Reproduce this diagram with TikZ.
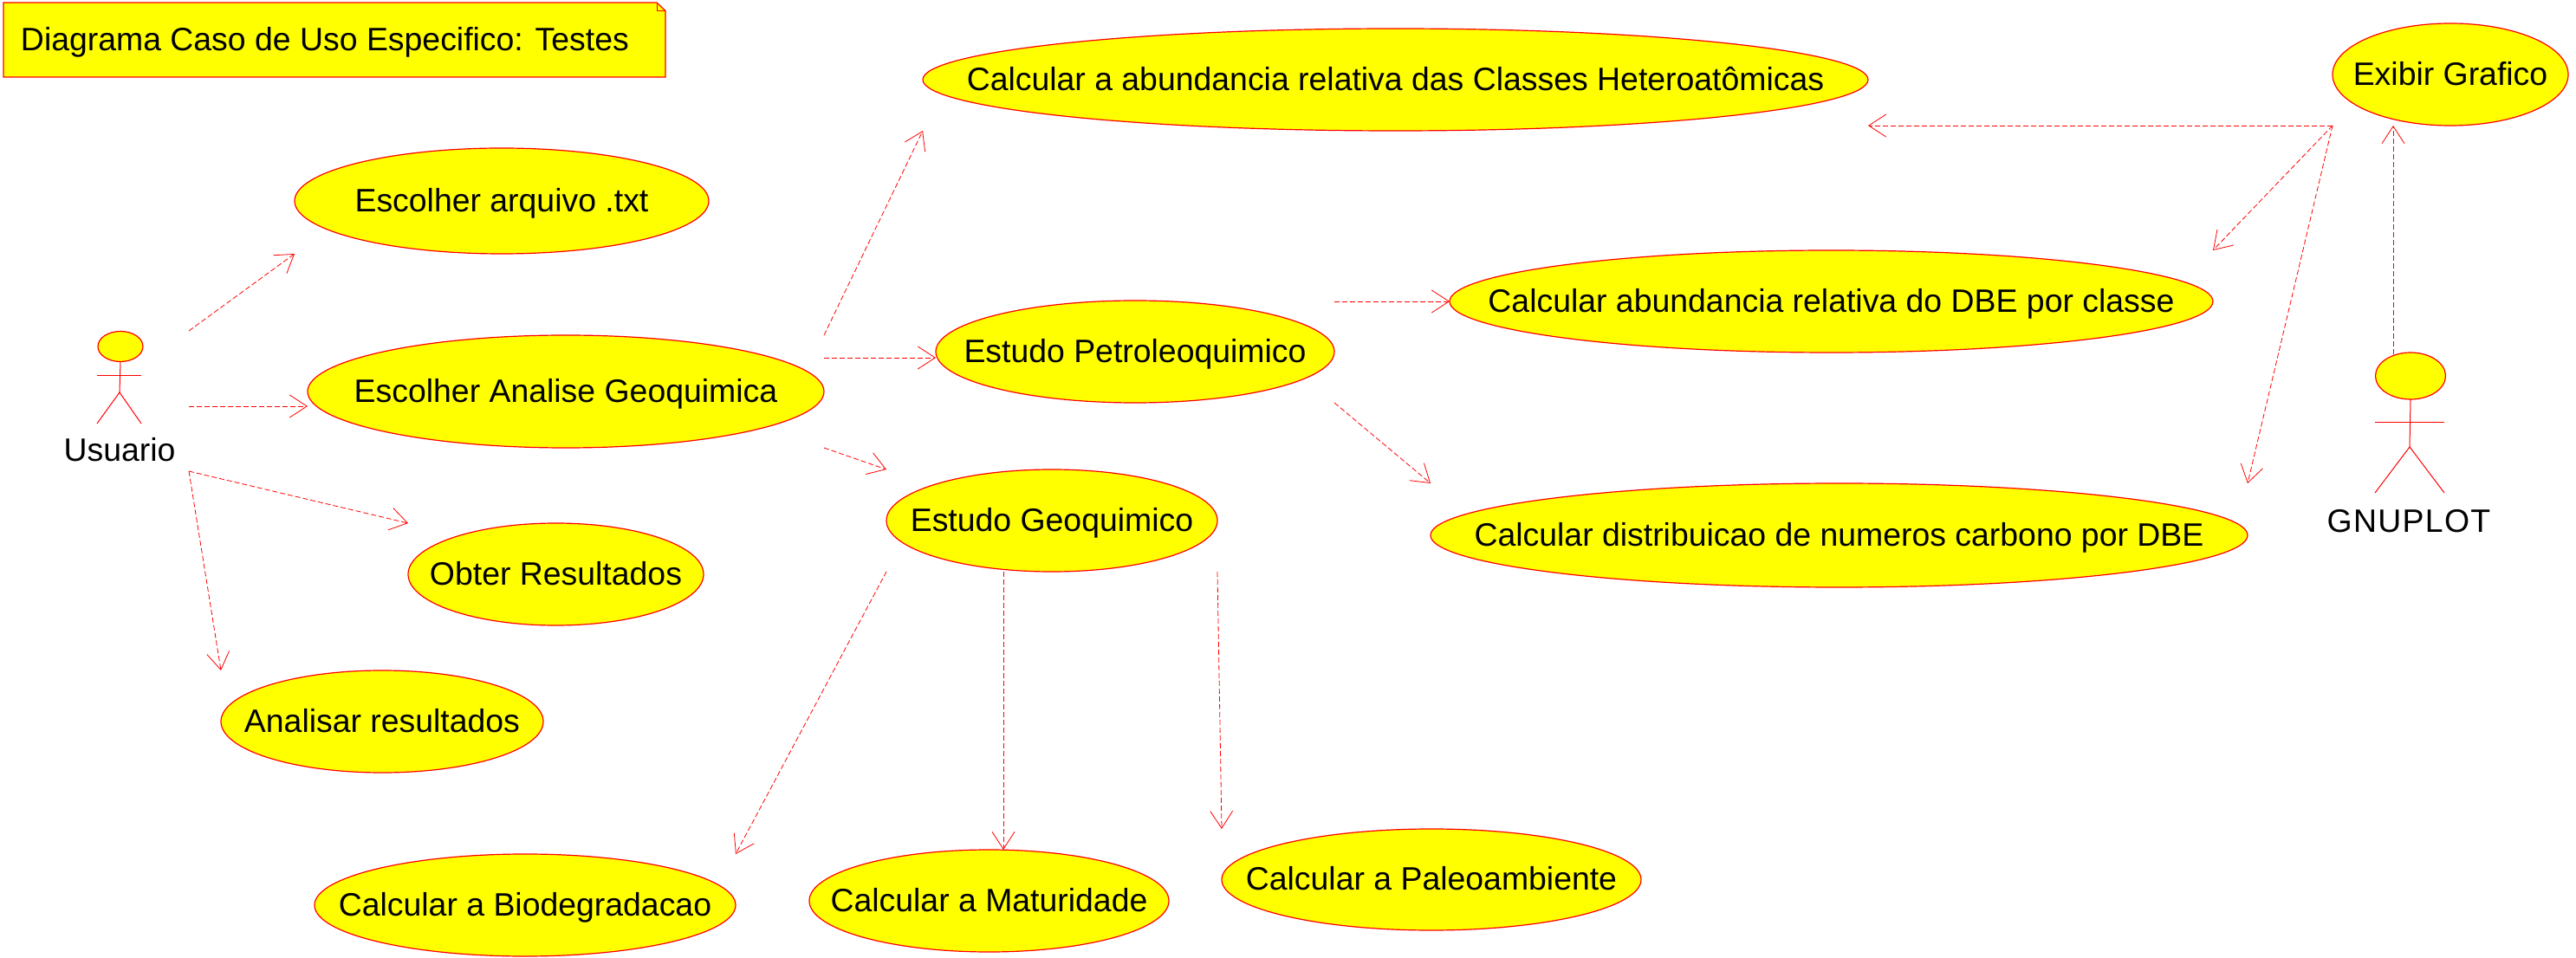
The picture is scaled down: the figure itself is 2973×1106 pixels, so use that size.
\documentclass[tikz,border=0pt]{standalone}
\usepackage{fontspec}
\setmainfont{Liberation Sans}
\usetikzlibrary{shapes.geometric,arrows.meta,calc}
\newcommand{\uclabel}[1]{\makebox[0pt][c]{\raisebox{-.33em}[0pt][0pt]{#1}}}
\definecolor{umlred}{RGB}{255,0,0}
\definecolor{umlyellow}{RGB}{255,255,0}
\tikzset{
  usecase/.style={ellipse,draw=umlred,fill=umlyellow,line width=.6pt,inner sep=0pt,outer sep=0pt,text=black,font=\fontsize{18.7pt}{22pt}\selectfont},
  actorpart/.style={draw=umlred,fill=umlyellow,line width=.6pt},
  actorline/.style={draw=umlred,line width=.5pt},
  actorname/.style={inner sep=0pt,outer sep=0pt,text=black,font=\fontsize{18.7pt}{22pt}\selectfont},
  dep/.style={draw=umlred,line width=.4pt,dash pattern=on 3pt off 1.5pt,-{Straight Barb[length=10pt,width=13pt,line width=.4pt]}},
}
\begin{document}
\begin{tikzpicture}[x=.5pt,y=-.5pt]
\useasboundingbox (0,0) rectangle (2973,1106);
% note
\draw[actorpart] (4,3) -- (758,3) -- (768,12.5) -- (768,89) -- (4,89) -- cycle;
\draw[actorline] (758,3) -- (758,12.5) -- (768,12.5);
\node[actorname,anchor=west] (note) at (24,46) {\raisebox{-.33em}[0pt][0pt]{Diagrama Caso de Uso Especifico: Testes}};
% use cases
\node[usecase,minimum width=239pt,minimum height=61pt] (arq) at (579,232) {\uclabel{Escolher arquivo .txt}};
\node[usecase,minimum width=298pt,minimum height=65pt] (eag) at (653,452) {\uclabel{Escolher Analise Geoquimica}};
\node[usecase,minimum width=170.5pt,minimum height=59pt] (obter) at (641.5,663) {\uclabel{Obter Resultados}};
\node[usecase,minimum width=186pt,minimum height=59pt] (analisar) at (441,833) {\uclabel{Analisar resultados}};
\node[usecase,minimum width=545.5pt,minimum height=59pt] (abund) at (1610.5,92) {\uclabel{Calcular a abundancia relativa das Classes Heteroatômicas}};
\node[usecase,minimum width=230pt,minimum height=59pt] (petro) at (1310,406) {\uclabel{Estudo Petroleoquimico}};
\node[usecase,minimum width=191pt,minimum height=59pt] (geo) at (1214,601) {\uclabel{Estudo Geoquimico}};
\node[usecase,minimum width=440.5pt,minimum height=59pt] (dbe) at (2113.5,348) {\uclabel{Calcular abundancia relativa do DBE por classe}};
\node[usecase,minimum width=471.5pt,minimum height=60pt] (carbon) at (2122.5,618) {\uclabel{Calcular distribuicao de numeros carbono por DBE}};
\node[usecase,minimum width=136pt,minimum height=59pt] (exibir) at (2828,86) {\uclabel{Exibir Grafico}};
\node[usecase,minimum width=243pt,minimum height=59pt] (biodeg) at (606,1045) {\uclabel{Calcular a Biodegradacao}};
\node[usecase,minimum width=207.5pt,minimum height=59pt] (mat) at (1141.5,1040) {\uclabel{Calcular a Maturidade}};
\node[usecase,minimum width=242pt,minimum height=58.5pt] (paleo) at (1652,1015.5) {\uclabel{Calcular a Paleoambiente}};
% actor Usuario
\node[ellipse,actorpart,minimum width=26pt,minimum height=17.5pt,inner sep=0pt,outer sep=0pt] (uhead) at (139,400) {};
\draw[actorline] (uhead.south) -- (138,453) coordinate (ucrotch);
\draw[actorline] (112,434) -- (163,434);
\draw[actorline] (112,489) -- (ucrotch) -- (163,489);
\node[actorname] (usuario) at (138,520) {\uclabel{Usuario}};
\coordinate (ufrom1) at ($(uhead)+(79,-18)$);
\coordinate (ufrom2) at ($(uhead)+(79,69)$);
\coordinate (ufrom3) at ($(uhead)+(79,144)$);
% actor GNUPLOT
\node[ellipse,actorpart,minimum width=40.5pt,minimum height=27pt,inner sep=0pt,outer sep=0pt] (ghead) at (2782,434) {};
\draw[actorline] (ghead.south) -- (2781,516) coordinate (gcrotch);
\draw[actorline] (2741,488) -- (2821,488);
\draw[actorline] (2741,569) -- (gcrotch) -- (2821,569);
\node[actorname] (gnuplot) at (2780,602) {\uclabel{\addfontfeature{LetterSpace=3.5}GNUPLOT}};
% dependencies
\draw[dep] (ufrom1) -- (arq.west |- arq.south);
\draw[dep] (ufrom2) -- ($(eag.west)+(0,17)$);
\draw[dep] (ufrom3) -- (obter.west |- obter.north);
\draw[dep] (ufrom3) -- (analisar.west |- analisar.north);
\draw[dep] (eag.east |- eag.north) -- (abund.west |- abund.south);
\draw[dep] ($(eag.east)+(0,-39)$) -- ($(petro.west)+(0,7)$);
\draw[dep] (eag.east |- eag.south) -- (geo.west |- geo.north);
\draw[dep] (petro.east |- dbe.west) -- (dbe.west);
\draw[dep] (petro.east |- petro.south) -- (carbon.west |- carbon.north);
\draw[dep] (geo.west |- geo.south) -- (biodeg.east |- biodeg.north);
\draw[dep] ($(geo.south)+(-56,0)$) -- ($(mat.north)+(16.5,0)$);
\draw[dep] (geo.east |- geo.south) -- (paleo.west |- paleo.north);
\draw[dep] (exibir.west |- exibir.south) -- (abund.east |- exibir.south);
\draw[dep] (exibir.west |- exibir.south) -- (dbe.east |- dbe.north);
\draw[dep] (exibir.west |- exibir.south) -- (carbon.east |- carbon.north);
\draw[dep] ($(ghead.north)+(-20,2)$) -- ($(exibir.south)+(-66,0)$);
\end{tikzpicture}
\end{document}
